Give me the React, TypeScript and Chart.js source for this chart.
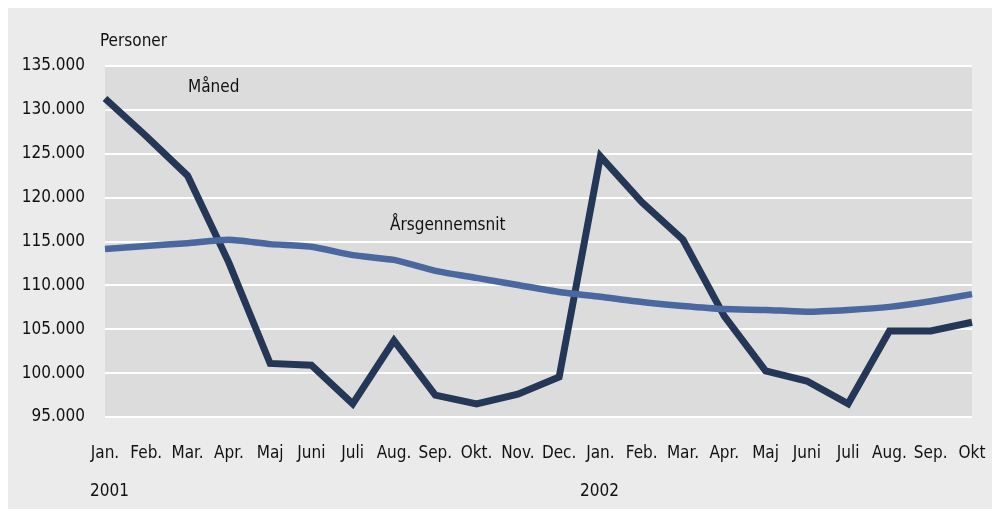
import React, { useEffect, useRef } from "react";
import { Chart, registerables } from "chart.js";

Chart.register(...registerables);

const months = [
  "Jan.", "Feb.", "Mar.", "Apr.", "Maj", "Juni", "Juli", "Aug.", "Sep.", "Okt.", "Nov.", "Dec.",
  "Jan.", "Feb.", "Mar.", "Apr.", "Maj", "Juni", "Juli", "Aug.", "Sep.", "Okt",
];

const maaned = [
  131300, 127000, 122500, 112600, 101100, 100900, 96500, 103700, 97500, 96500, 97600, 99550,
  124700, 119500, 115200, 106500, 100250, 99100, 96500, 104800, 104800, 105800,
];

const aarsgennemsnit = [
  114150, 114500, 114800, 115200, 114700, 114400, 113450, 112900, 111650, 110850, 110050, 109250,
  108700, 108100, 107650, 107300, 107200, 107000, 107200, 107550, 108200, 109000,
];

const yMin = 95000;
const yMax = 135000;
const yStep = 5000;

const FONT = "'DejaVu Sans Condensed', 'DejaVu Sans', sans-serif";

export default function App() {
  const ref = useRef<HTMLCanvasElement | null>(null);

  useEffect(() => {
    if (!ref.current) return;
    const bgPlugin = {
      id: "bgPlugin",
      beforeDraw(chart: any) {
        const { ctx, chartArea } = chart;
        ctx.save();
        ctx.fillStyle = "#dcdcdc";
        ctx.fillRect(chartArea.left, chartArea.top, chartArea.right - chartArea.left, chartArea.bottom - chartArea.top);
        ctx.restore();
      },
      afterDraw(chart: any) {
        const ctx = chart.ctx;
        ctx.save();
        ctx.fillStyle = "#111111";
        ctx.font = `17px ${FONT}`;
        ctx.textBaseline = "middle";
        ctx.textAlign = "left";
        ctx.fillText("Personer", 92, 34);
        ctx.fillText("Måned", 180, 80);
        ctx.fillText("Årsgennemsnit", 382, 218);
        ctx.fillText("2001", 82, 484);
        ctx.fillText("2002", 572, 484);
        ctx.restore();
      },
    };

    const chart = new Chart(ref.current, {
      type: "line",
      data: {
        labels: months,
        datasets: [
          {
            label: "Årsgennemsnit",
            data: aarsgennemsnit,
            borderColor: "#4a67a0",
            borderWidth: 6.5,
            pointRadius: 0,
            tension: 0.2,
            fill: false,
          },
          {
            label: "Måned",
            data: maaned,
            borderColor: "#243756",
            borderWidth: 7,
            pointRadius: 0,
            tension: 0,
            fill: false,
            borderJoinStyle: "miter",
          },
        ],
      },
      options: {
        animation: false,
        responsive: false,
        maintainAspectRatio: false,
        layout: { padding: { top: 58, right: 20, left: 0, bottom: 0 } },
        plugins: {
          legend: { display: false },
          tooltip: { enabled: false },
          title: { display: false },
        },
        scales: {
          x: {
            offset: false,
            grid: { display: false, drawTicks: false },
            border: { display: false },
            ticks: {
              color: "#111111",
              font: { family: FONT, size: 17 },
              padding: 26,
              maxRotation: 0,
              autoSkip: false,
            },
            afterFit(scale: any) {
              scale.height = 92;
              scale.paddingRight = 0;
              scale.paddingLeft = 0;
            },
          },
          y: {
            min: yMin,
            max: yMax,
            grid: { color: "#ffffff", lineWidth: 2, drawTicks: false },
            border: { display: false },
            ticks: {
              stepSize: yStep,
              color: "#111111",
              font: { family: FONT, size: 17 },
              padding: 20,
              callback: (v: any) => Number(v).toLocaleString("de-DE"),
            },
            afterFit(scale: any) {
              scale.width = 97;
            },
          },
        },
      },
      plugins: [bgPlugin],
    });
    return () => chart.destroy();
  }, []);

  return (
    <div style={{ width: 984, height: 501, background: "#ebebeb" }}>
      <canvas ref={ref} width={984} height={501} style={{ display: "block" }} />
    </div>
  );
}
